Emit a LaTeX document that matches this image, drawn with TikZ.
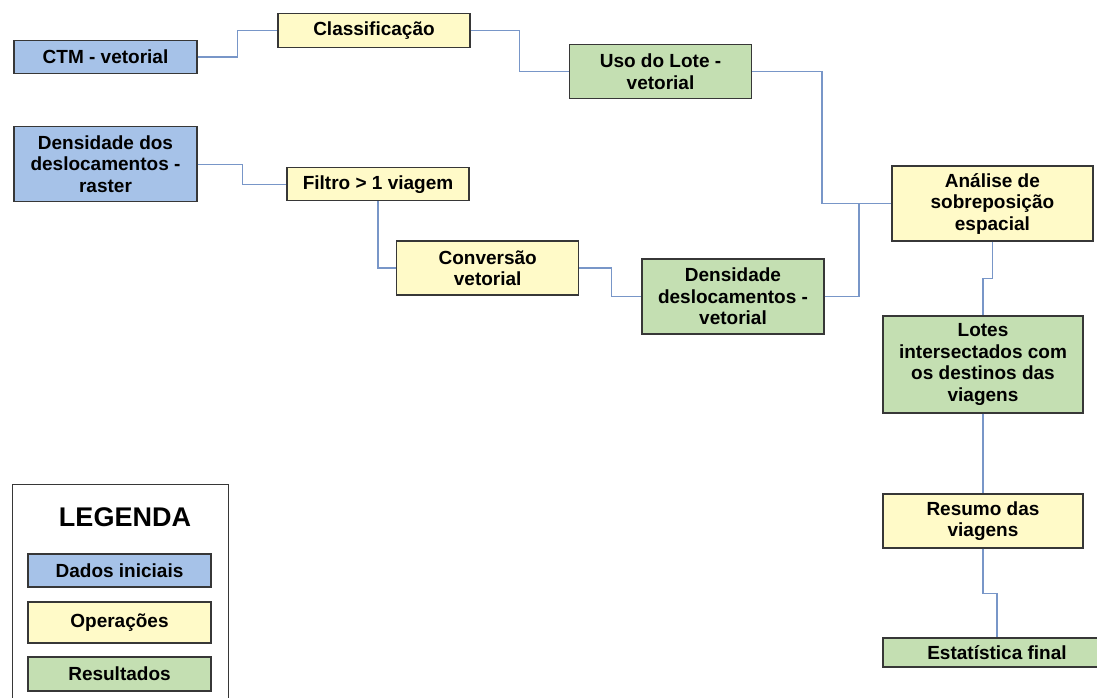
\documentclass[tikz,border=0pt]{standalone}
\usepackage{fontspec}
\setmainfont{Liberation Sans}
\definecolor{dadosblue}{RGB}{166,194,232}
\definecolor{operyellow}{RGB}{255,250,200}
\definecolor{resgreen}{RGB}{196,223,178}
\definecolor{linkblue}{RGB}{120,150,200}
\definecolor{boxgray}{RGB}{55,55,55}
\begin{document}
\begin{tikzpicture}[x=1pt, y=-1pt,
    box/.style={draw=boxgray, line width=1.2pt, inner sep=0pt, align=center,
                font=\bfseries\fontsize{19}{21.5}\selectfont},
    dados/.style={box, fill=dadosblue},
    oper/.style={box, fill=operyellow},
    result/.style={box, fill=resgreen},
    link/.style={draw=linkblue, line width=1.3pt}]
    \useasboundingbox (0,0) rectangle (1097,697);

    % Dados iniciais
    \node[dados, minimum width=183pt, minimum height=33pt] (ctm) at (105.5,57) {CTM - vetorial};
    \node[dados, minimum width=183pt, minimum height=75pt] (dens) at (105.5,164.2) {Densidade dos\\deslocamentos -\\raster};

    % Operacoes
    \node[oper, minimum width=192pt, minimum height=34pt] (class) at (374,30.5) {Classificação};
    \node[oper, minimum width=182pt, minimum height=33pt] (filtro) at (378,184.3) {Filtro > 1 viagem};
    \node[oper, minimum width=182pt, minimum height=54pt] (conv) at (487.7,268) {Conversão\\vetorial};
    \node[oper, minimum width=201pt, minimum height=75pt] (analise) at (992.4,203.5) {Análise de\\sobreposição\\espacial};
    \node[oper, minimum width=200pt, minimum height=54pt] (resumo) at (983,521) {Resumo das\\viagens};

    % Resultados
    \node[result, minimum width=182pt, minimum height=54pt] (uso) at (660.5,71.5) {Uso do Lote -\\vetorial};
    \node[result, minimum width=182pt, minimum height=75pt] (densvet) at (733,296.5) {Densidade\\deslocamentos -\\vetorial};
    \node[result, minimum width=200pt, minimum height=97pt] (lotes) at (983,364.5) {Lotes\\intersectados com\\os destinos das\\viagens};
    \node[result, minimum width=228pt, minimum height=29pt] (estat) at (997,652.5) {Estatística final};

    % Ligacoes
    \draw[link] (ctm.east) -- ++(40,0) |- (class.west);
    \draw[link] (class.east) -- ++(49,0) |- (uso.west);
    \draw[link] (dens.east) -- ++(45,0) |- (filtro.west);
    \draw[link] (filtro.south) |- (conv.west);
    \draw[link] (conv.east) -- ++(32,0) |- (densvet.west);
    \draw[link] (uso.east) -- ++(70,0) |- (analise.west);
    \draw[link] (densvet.east) -- ++(34.3,0) |- (analise.west);
    \draw[link] (analise.south) -- ++(0,36.7) -| (lotes.north);
    \draw[link] (lotes.south) -- (resumo.north);
    \draw[link] (resumo.south) -- ++(0,45) -| (estat.north);

    % Legenda
    \draw[boxgray, line width=1pt] (12,484) rectangle (228,712);
    \node[font=\bfseries\fontsize{27}{30}\selectfont] (legtitle) at (125,517) {LEGENDA};
    \node[dados, minimum width=183pt, minimum height=33pt] (legdados) at (119.5,570.5) {Dados iniciais};
    \node[oper, minimum width=183pt, minimum height=41pt] (legoper) at (119.5,622.5) {Operações};
    \node[result, minimum width=183pt, minimum height=34pt] (legres) at (119.5,674) {Resultados};
\end{tikzpicture}
\end{document}
